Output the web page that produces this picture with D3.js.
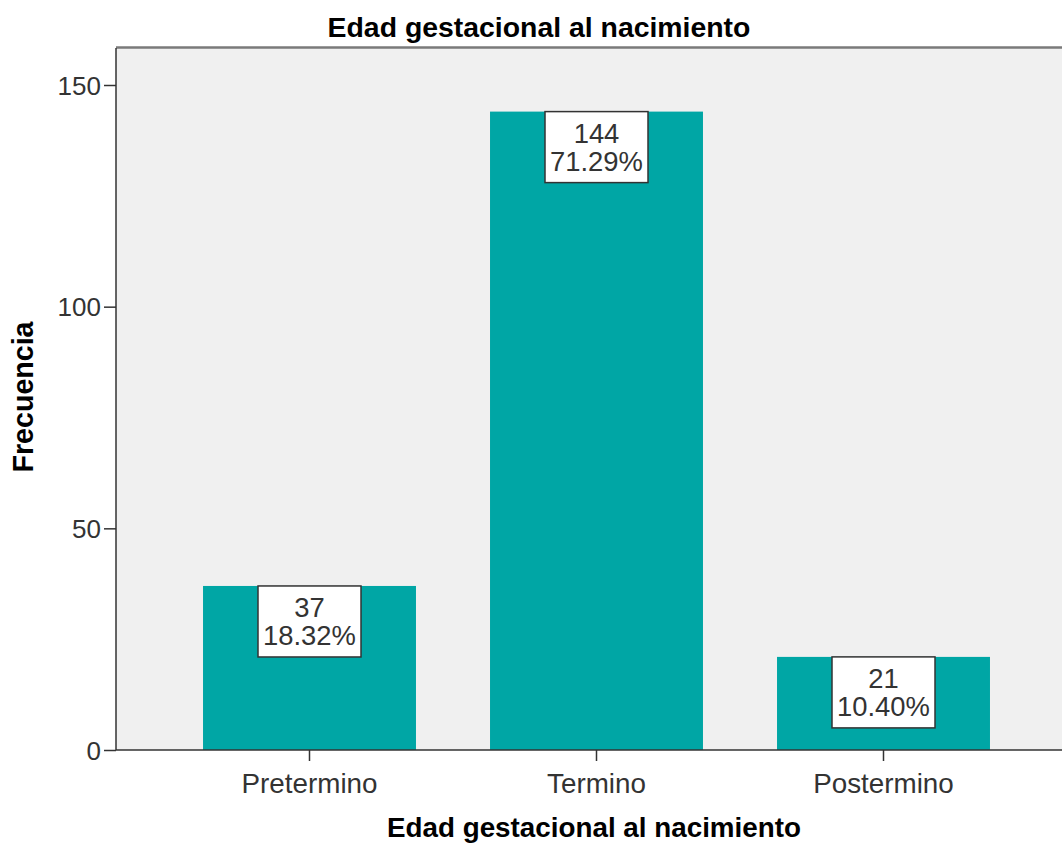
<!DOCTYPE html>
<html><head><meta charset="utf-8">
<script src="https://cdn.jsdelivr.net/npm/d3@7"></script>
<style>
html,body{margin:0;padding:0;background:#fff;}
svg{display:block;font-family:"Liberation Sans",Arial,sans-serif;}
</style></head>
<body>
<svg id="c" width="1062" height="845"></svg>
<script>
const categories = ["Pretermino", "Termino", "Postermino"];
const counts = [37, 144, 21];
const percents = ["18.32%", "71.29%", "10.40%"];
const yTicks = [0, 50, 100, 150];
const chartTitle = "Edad gestacional al nacimiento";
const xTitle = "Edad gestacional al nacimiento";
const yTitle = "Frecuencia";

const svg = d3.select("#c");
const plot = {left: 116, top: 48, right: 1064, bottom: 750};

const x = d3.scaleBand().domain(categories).range([166, 1027]).paddingInner(0.258).paddingOuter(0.129);
const y = d3.scaleLinear().domain([0, 150]).range([750, 85]);

// plot background
svg.append("rect").attr("x", plot.left).attr("y", plot.top)
  .attr("width", plot.right - plot.left).attr("height", plot.bottom - plot.top)
  .attr("fill", "#f0f0f0");
// top border
svg.append("line").attr("x1", plot.left).attr("x2", plot.right).attr("y1", plot.top - 0.5).attr("y2", plot.top - 0.5)
  .attr("stroke", "#7a7a7a").attr("stroke-width", 2.5);

// bars
svg.append("g").selectAll("rect").data(categories).join("rect")
  .attr("x", d => x(d)).attr("width", x.bandwidth())
  .attr("y", (d, i) => y(counts[i])).attr("height", (d, i) => y(0) - y(counts[i]))
  .attr("fill", "#00a6a5");

// y axis
const yAxis = svg.append("g").attr("transform", `translate(${plot.left},0)`)
  .call(d3.axisLeft(y).tickValues(yTicks).tickSize(12).tickPadding(3).tickFormat(d3.format("d")));
yAxis.select(".domain").attr("d", `M0,${plot.top}V${plot.bottom}`).attr("stroke", "#333").attr("stroke-width", 1.5);
yAxis.selectAll(".tick line").attr("stroke", "#333").attr("stroke-width", 1.5);
yAxis.selectAll(".tick text").attr("font-size", 26).attr("fill", "#333").attr("font-family", "Liberation Sans, Arial, sans-serif").attr("dy", "0.35em");

// x axis
const xAxis = svg.append("g").attr("transform", `translate(0,${plot.bottom})`)
  .call(d3.axisBottom(x).tickSize(11).tickPadding(12));
xAxis.select(".domain").attr("d", `M${plot.left},0H${plot.right}`).attr("stroke", "#333").attr("stroke-width", 1.5);
xAxis.selectAll(".tick line").attr("stroke", "#333").attr("stroke-width", 1.5);
xAxis.selectAll(".tick text").attr("font-size", 27.8).attr("fill", "#333").attr("font-family", "Liberation Sans, Arial, sans-serif");

// value labels
const lab = svg.append("g").selectAll("g").data(categories).join("g")
  .attr("transform", (d, i) => `translate(${x(d) + x.bandwidth() / 2},${y(counts[i])})`);
lab.append("rect").attr("x", -51.5).attr("y", 0).attr("width", 103).attr("height", 71)
  .attr("fill", "#fff").attr("stroke", "#333").attr("stroke-width", 1.5);
lab.append("text").attr("text-anchor", "middle").attr("y", 31).attr("font-size", 27.4).attr("fill", "#333")
  .text((d, i) => counts[i]);
lab.append("text").attr("text-anchor", "middle").attr("y", 59).attr("font-size", 27.4).attr("fill", "#333")
  .text((d, i) => percents[i]);

// titles
svg.append("text").attr("x", 539).attr("y", 37).attr("text-anchor", "middle")
  .attr("font-size", 28.4).attr("font-weight", "bold").attr("fill", "#000").text(chartTitle);
svg.append("text").attr("x", 594).attr("y", 837).attr("text-anchor", "middle")
  .attr("font-size", 27.8).attr("font-weight", "bold").attr("fill", "#000").text(xTitle);
svg.append("text").attr("transform", "translate(33,397) rotate(-90)").attr("text-anchor", "middle")
  .attr("font-size", 28.6).attr("font-weight", "bold").attr("fill", "#000").text(yTitle);
</script>
</body></html>
